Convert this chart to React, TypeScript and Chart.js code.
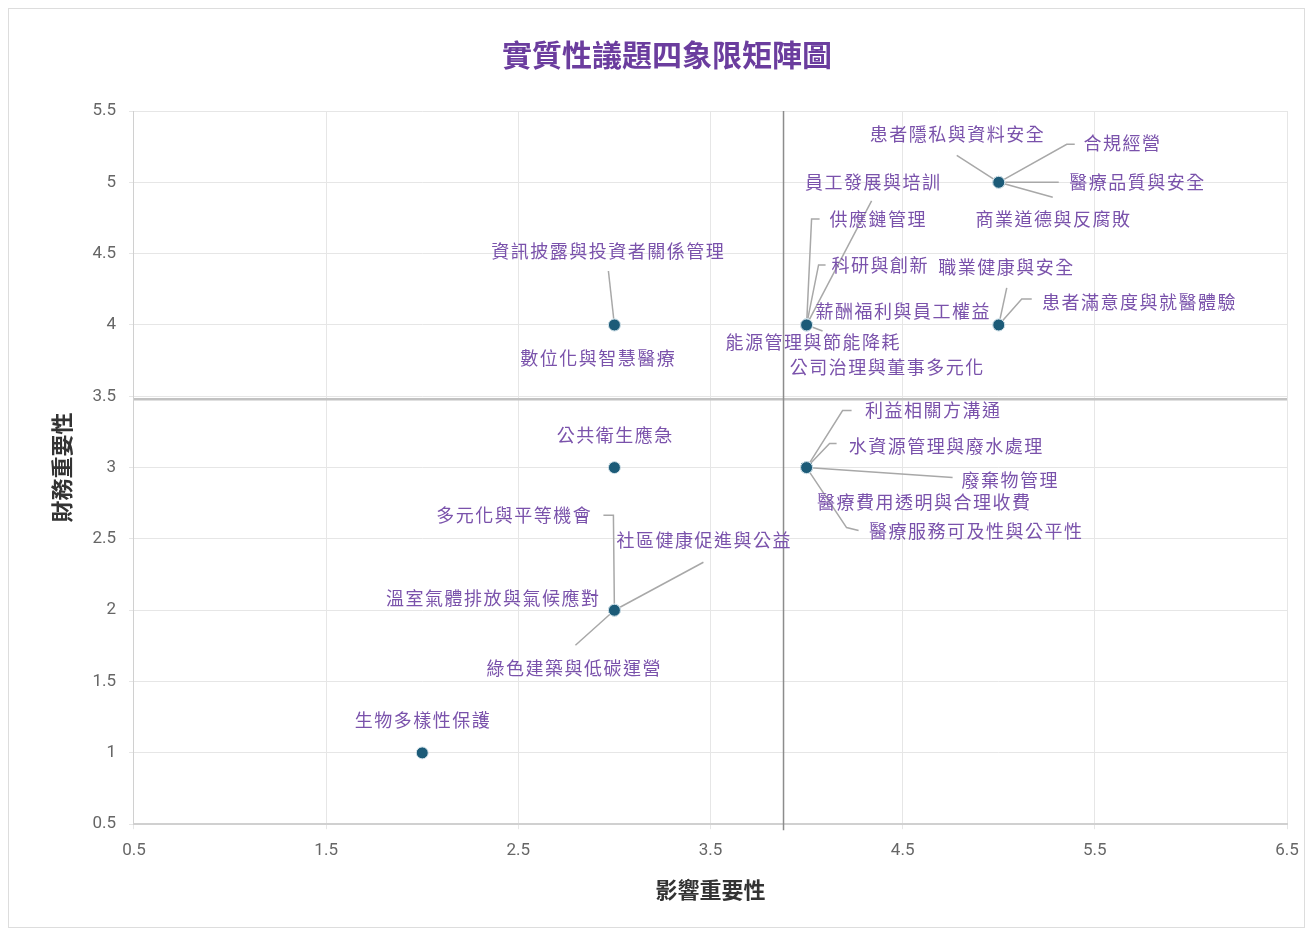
import React, { useEffect, useRef } from "react";
import { Chart, registerables } from "chart.js";

Chart.register(...registerables);

// ---- data ----
const topics: string[] = [
  "患者隱私與資料安全",
  "合規經營",
  "醫療品質與安全",
  "商業道德與反腐敗",
  "員工發展與培訓",
  "供應鏈管理",
  "科研與創新",
  "薪酬福利與員工權益",
  "能源管理與節能降耗",
  "公司治理與董事多元化",
  "職業健康與安全",
  "患者滿意度與就醫體驗",
  "資訊披露與投資者關係管理",
  "數位化與智慧醫療",
  "利益相關方溝通",
  "水資源管理與廢水處理",
  "廢棄物管理",
  "醫療費用透明與合理收費",
  "醫療服務可及性與公平性",
  "公共衛生應急",
  "多元化與平等機會",
  "社區健康促進與公益",
  "溫室氣體排放與氣候應對",
  "綠色建築與低碳運營",
  "生物多樣性保護",
];
const impact: number[] = [5, 5, 5, 5, 4, 4, 4, 4, 4, 4, 5, 5, 3, 3, 4, 4, 4, 4, 4, 3, 3, 3, 3, 3, 2];
const financial: number[] = [5, 5, 5, 5, 4, 4, 4, 4, 4, 4, 4, 4, 4, 4, 3, 3, 3, 3, 3, 3, 2, 2, 2, 2, 1];

const xTicks: number[] = [0.5, 1.5, 2.5, 3.5, 4.5, 5.5, 6.5];

const chartTitle = "實質性議題四象限矩陣圖";
const xTitle = "影響重要性";
const yTitle = "財務重要性";

// ---- label layout (pixel offsets from each point, styling only) ----
const labelOffsets: [number, number][] = [
  [-42, -48], [123, -39], [138, 0], [54, 37],
  [66, -143], [71, -106], [73, -60], [96, -14], [6, 17], [80, 42],
  [7, -58], [140, -23],
  [-7, -74], [-17, 33],
  [126, -57], [139, -21], [203, 13], [117, 35], [169, 64],
  [0, -32],
  [-101, -95], [89, -70], [-122, -12], [-41, 58],
  [0, -33],
];
const leaderLines: ([number, number][] | null)[] = [
  [[-42, -27]],
  [[68, -38], [76, -38]],
  [[60, 0]],
  [[54, 15]],
  [[65, -124]],
  [[5, -106], [13, -106]],
  [[12, -60], [19, -60]],
  null,
  [[16, 6]],
  null,
  [[8, -37]],
  [[23, -26], [33, -26]],
  [[-6, -54]],
  null,
  [[36, -57], [45, -57]],
  [[23, -24], [30, -24]],
  [[146, 10]],
  null,
  [[40, 60], [52, 63]],
  null,
  [[-1, -95], [-11, -95]],
  [[89, -48]],
  null,
  [[-39, 35]],
  null,
];

const CJK = '"Noto Sans CJK TC", "Noto Sans", sans-serif';

const mean = (a: number[]) => a.reduce((s, v) => s + v, 0) / a.length;

const quadrantPlugin = {
  id: "quadrants",
  beforeDatasetsDraw(chart: any) {
    const { ctx, chartArea, scales } = chart;
    const mx = scales.x.getPixelForValue(mean(impact));
    const my = scales.y.getPixelForValue(mean(financial));
    ctx.save();
    ctx.strokeStyle = "#c2c2c2";
    ctx.lineWidth = 2.5;
    ctx.beginPath();
    ctx.moveTo(chartArea.left, my);
    ctx.lineTo(chartArea.right, my);
    ctx.stroke();
    ctx.strokeStyle = "#8c8c8c";
    ctx.lineWidth = 1.5;
    ctx.beginPath();
    ctx.moveTo(mx, chartArea.top);
    ctx.lineTo(mx, chartArea.bottom + 6);
    ctx.stroke();
    // leader lines
    ctx.strokeStyle = "#a8a8a8";
    ctx.lineWidth = 1.5;
    for (let i = 0; i < topics.length; i++) {
      const pts = leaderLines[i];
      if (!pts) continue;
      const px = scales.x.getPixelForValue(impact[i]);
      const py = scales.y.getPixelForValue(financial[i]);
      ctx.beginPath();
      ctx.moveTo(px, py);
      for (const [dx, dy] of pts) ctx.lineTo(px + dx, py + dy);
      ctx.stroke();
    }
    ctx.restore();
  },
  afterDatasetsDraw(chart: any) {
    const { ctx, scales } = chart;
    ctx.save();
    ctx.font = `18px ${CJK}`;
    (ctx as any).letterSpacing = "1.5px";
    ctx.fillStyle = "#7a52ab";
    ctx.textAlign = "center";
    ctx.textBaseline = "middle";
    for (let i = 0; i < topics.length; i++) {
      const px = scales.x.getPixelForValue(impact[i]);
      const py = scales.y.getPixelForValue(financial[i]);
      const [dx, dy] = labelOffsets[i];
      ctx.fillText(topics[i], px + dx + 0.75, py + dy);
    }
    ctx.restore();
  },
};

export default function App() {
  const ref = useRef<HTMLCanvasElement | null>(null);
  useEffect(() => {
    if (!ref.current) return;
    const chart = new Chart(ref.current, {
      type: "scatter",
      data: {
        datasets: [
          {
            label: "議題",
            data: topics.map((_, i) => ({ x: impact[i], y: financial[i] })),
            backgroundColor: "#1c5b78",
            borderColor: "#d5e3ea",
            borderWidth: 1,
            pointRadius: 6,
            pointHoverRadius: 6,
          },
        ],
      },
      options: {
        responsive: false,
        animation: false,
        layout: { padding: { top: 0, left: 38, right: 17, bottom: 20 } },
        plugins: {
          legend: { display: false },
          tooltip: { enabled: false },
          title: {
            display: true,
            text: chartTitle,
            color: "#6b3d9e",
            font: { family: CJK, size: 30, weight: "bold" },
            padding: { top: 28, bottom: 38 },
          },
        },
        scales: {
          x: {
            type: "linear",
            min: 0.5,
            max: 6.5,
            afterBuildTicks: (scale: any) => {
              scale.ticks = xTicks.map((v) => ({ value: v }));
            },
            afterFit: (scale: any) => {
              scale.paddingRight = 0;
              scale.paddingLeft = 0;
            },
            ticks: {
              color: "#666",
              font: { family: "Roboto, sans-serif", size: 17 },
              padding: 11,
              callback: (v: any) => String(v),
            },
            grid: { color: "#e6e6e6", tickLength: 5 },
            border: { color: "#d0d0d0", width: 2 },
            title: {
              display: true,
              text: xTitle,
              color: "#333",
              font: { family: CJK, size: 22, weight: "bold" },
              padding: { top: 5, bottom: 4 },
            },
          },
          y: {
            type: "linear",
            min: 0.5,
            max: 5.5,
            ticks: {
              stepSize: 0.5,
              color: "#666",
              font: { family: "Roboto, sans-serif", size: 17 },
              padding: 13,
              callback: (v: any) => String(v),
            },
            grid: { color: "#e6e6e6", tickLength: 5 },
            border: { color: "#d0d0d0", width: 1 },
            title: {
              display: true,
              text: yTitle,
              color: "#333",
              font: { family: CJK, size: 22, weight: "bold" },
              padding: { top: 1, bottom: 5 },
            },
          },
        },
      },
      plugins: [quadrantPlugin],
    });
    return () => chart.destroy();
  }, []);
  return (
    <div
      style={{
        width: 1295,
        height: 918,
        border: "1px solid #dddddd",
        background: "#fff",
      }}
    >
      <canvas ref={ref} width={1295} height={918} style={{ display: "block", width: 1295, height: 918 }} />
    </div>
  );
}
